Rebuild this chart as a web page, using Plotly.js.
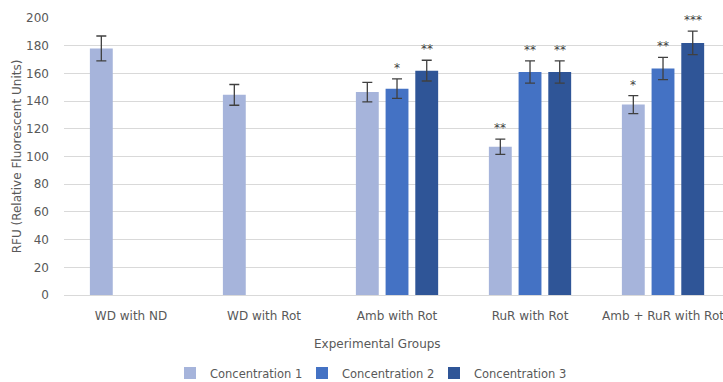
<!DOCTYPE html>
<html>
<head>
<meta charset="utf-8">
<script src="https://cdn.plot.ly/plotly-3.0.1.min.js"></script>
<style>html,body{margin:0;padding:0;background:#fff;}#chart{width:723px;height:382px;}</style>
</head>
<body>
<div id="chart"></div>
<script>
var categories = ["WD with ND", "WD with Rot", "Amb with Rot", "RuR with Rot", "Amb + RuR with Rot"];
var seriesNames = ["Concentration 1", "Concentration 2", "Concentration 3"];
var conc1 = [178, 144.5, 146.5, 107, 137.5];
var conc2 = [null, null, 149, 161, 163.5];
var conc3 = [null, null, 162, 161, 182];
var err1 = [9, 7.5, 7, 5.5, 6.5];
var err2 = [null, null, 7, 8, 8];
var err3 = [null, null, 7.5, 8, 8.5];
var stars1 = ["", "", "", "**", "*"];
var stars2 = ["", "", "*", "**", "**"];
var stars3 = ["", "", "**", "**", "***"];
var colors = ["#a6b4db", "#4472c4", "#2f5597"];

var values = [conc1, conc2, conc3];
var errs = [err1, err2, err3];
var stars = [stars1, stars2, stars3];

var font = "DejaVu Sans, sans-serif";
var textColor = "#595959";

var traces = values.map(function (v, j) {
  return {
    type: "bar",
    name: seriesNames[j],
    x: categories,
    y: v,
    marker: {color: colors[j]},
    error_y: {type: "data", array: errs[j], visible: true, color: "#404040", thickness: 1.3, width: 5},
    hoverinfo: "x+y"
  };
});

var bargap = 0.33;
var slot = (1 - bargap) / 3;
var annotations = [];
stars.forEach(function (s, j) {
  s.forEach(function (txt, i) {
    if (!txt) return;
    annotations.push({
      xref: "x", yref: "y",
      x: i + (j - 1) * slot,
      y: values[j][i] + errs[j][i],
      text: txt, showarrow: false,
      yanchor: "bottom", yshift: 2,
      font: {family: font, size: 12, color: "#404040"}
    });
  });
});
annotations.push({
  xref: "paper", yref: "paper",
  x: (377 - 64) / 659, y: (295.3 - 344) / 277.8,
  xanchor: "center", yanchor: "middle",
  text: "Experimental Groups", showarrow: false,
  font: {family: font, size: 12, color: textColor}
});

var layout = {
  width: 723, height: 382,
  margin: {l: 64, r: 0, t: 17.5, b: 86.7},
  paper_bgcolor: "#ffffff", plot_bgcolor: "#ffffff",
  barmode: "group", bargap: bargap, bargroupgap: 0.23,
  font: {family: font, size: 12, color: textColor},
  showlegend: true,
  legend: {
    orientation: "h", xref: "container", yref: "container",
    x: 170 / 723, xanchor: "left",
    y: 1 - 373 / 382, yanchor: "middle",
    entrywidth: 87, entrywidthmode: "pixels",
    font: {family: font, size: 11.5, color: textColor},
    bgcolor: "rgba(0,0,0,0)"
  },
  xaxis: {
    type: "category",
    range: [-0.504, 4.451],
    showgrid: false, zeroline: false,
    showline: false, ticks: "",
    ticklabelstandoff: 12,
    automargin: false,
    tickfont: {family: font, size: 12, color: textColor},
    fixedrange: true
  },
  yaxis: {
    range: [0, 200], dtick: 20,
    showgrid: true, gridcolor: "#d9d9d9", gridwidth: 1,
    zeroline: true, zerolinecolor: "#d9d9d9", zerolinewidth: 1,
    showline: false, ticks: "",
    ticklabelstandoff: 14,
    tickfont: {family: font, size: 12, color: textColor},
    title: {text: "RFU (Relative Fluorescent Units)", standoff: 1, font: {family: font, size: 12, color: textColor}},
    automargin: false,
    fixedrange: true
  },
  annotations: annotations
};

Plotly.newPlot("chart", traces, layout, {displayModeBar: false, staticPlot: true});
</script>
</body>
</html>
